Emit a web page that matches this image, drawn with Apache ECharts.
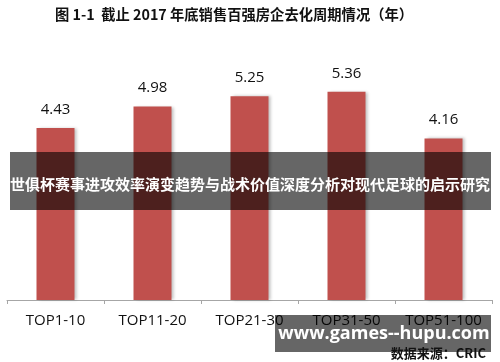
<!DOCTYPE html>
<html>
<head>
<meta charset="utf-8">
<script src="https://cdn.jsdelivr.net/npm/echarts@6/dist/echarts.min.js"></script>
<style>html,body{margin:0;padding:0;background:#fff}#c{width:500px;height:362px}</style>
</head>
<body>
<div id="c"></div>
<script>
const titleText = '图 1-1  截止 2017 年底销售百强房企去化周期情况（年）';
const categories = ['TOP1-10', 'TOP11-20', 'TOP21-30', 'TOP31-50', 'TOP51-100'];
const values = [4.43, 4.98, 5.25, 5.36, 4.16];
const bannerText = '世俱杯赛事进攻效率演变趋势与战术价值深度分析对现代足球的启示研究';
const siteText = 'www.games--hupu.com';
const sourceText = '数据来源：CRIC';

const chart = echarts.init(document.getElementById('c'), null, {renderer: 'canvas'});
chart.setOption({
  animation: false,
  title: {
    text: titleText,
    left: 50, top: 2,
    textStyle: {fontFamily: 'Noto Sans CJK SC', fontWeight: 'bold', fontSize: 14.3, color: '#111'}
  },
  grid: {left: 7, right: 8, top: 67, bottom: 62, containLabel: false},
  xAxis: {
    type: 'category',
    data: categories,
    axisLine: {lineStyle: {color: '#a6a6a6', width: 1}},
    axisTick: {show: true, length: 4, lineStyle: {color: '#a6a6a6'}},
    axisLabel: {interval: 0, hideOverlap: false, margin: 13, fontSize: 15, color: '#111', fontFamily: 'Open Sans'}
  },
  yAxis: {type: 'value', min: 0, max: 6, show: false, splitLine: {show: false}},
  series: [{
    type: 'bar',
    data: values,
    barWidth: 38,
    itemStyle: {color: '#c0504d', shadowColor: 'rgba(0,0,0,0.25)', shadowBlur: 3, shadowOffsetX: 2, shadowOffsetY: 0},
    label: {
      show: true, position: 'top', distance: 11,
      fontSize: 15, color: '#111', fontFamily: 'Open Sans',
      formatter: p => p.value.toFixed(2)
    }
  }],
  graphic: [
    {type: 'rect', left: 10, top: 152, shape: {width: 481, height: 58}, style: {fill: 'rgba(0,0,0,0.6)'}, z: 100},
    {type: 'text', x: 250, y: 184, style: {text: bannerText, fill: '#fff', font: 'bold 15px "Noto Sans CJK SC"', align: 'center', verticalAlign: 'middle'}, z: 101},
    {type: 'rect', left: 275, top: 315, shape: {width: 216, height: 37}, style: {fill: 'rgba(0,0,0,0.6)'}, z: 100},
    {type: 'text', x: 384, y: 334, style: {text: siteText, fill: '#fff', font: 'bold 18px "Open Sans"', align: 'center', verticalAlign: 'middle'}, z: 101},
    {type: 'text', x: 486, y: 353, style: {text: sourceText, fill: '#111', font: 'bold 13px "Noto Sans CJK SC"', align: 'right', verticalAlign: 'middle'}, z: 102}
  ]
});
</script>
</body>
</html>
